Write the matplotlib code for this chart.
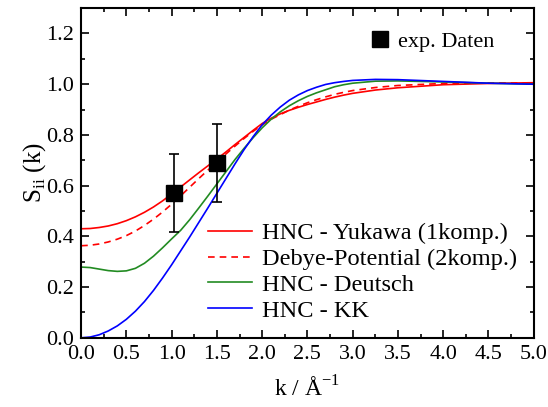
import matplotlib
matplotlib.use('Agg')
import matplotlib.pyplot as plt
from matplotlib.ticker import MultipleLocator

plt.rcParams['font.family'] = ['Liberation Serif', 'DejaVu Serif']
plt.rcParams['mathtext.fontset'] = 'custom'
plt.rcParams['mathtext.rm'] = 'Liberation Serif'

# data
k = [0.0, 0.1, 0.2, 0.3, 0.4, 0.5, 0.6, 0.7, 0.8, 0.9,
     1.0, 1.1, 1.2, 1.3, 1.4, 1.5, 1.6, 1.7, 1.8, 1.9,
     2.0, 2.1, 2.2, 2.3, 2.4, 2.5, 2.6, 2.7, 2.8, 2.9,
     3.0, 3.25, 3.5, 4.0, 4.5, 5.0]
s_yukawa = [0.430, 0.431, 0.435, 0.441, 0.450, 0.462, 0.477, 0.495, 0.516, 0.540,
            0.567, 0.595, 0.623, 0.651, 0.678, 0.705, 0.733, 0.762, 0.790, 0.818,
            0.845, 0.866, 0.883, 0.897, 0.909, 0.920, 0.930, 0.940, 0.949, 0.957,
            0.964, 0.977, 0.986, 0.998, 1.003, 1.006]
s_debye = [0.363, 0.365, 0.370, 0.378, 0.389, 0.403, 0.421, 0.443, 0.468, 0.496,
           0.527, 0.560, 0.594, 0.628, 0.661, 0.693, 0.725, 0.756, 0.786, 0.814,
           0.840, 0.862, 0.880, 0.898, 0.913, 0.927, 0.939, 0.950, 0.960, 0.968,
           0.975, 0.987, 0.995, 1.003, 1.005, 1.005]
s_deutsch = [0.279, 0.277, 0.271, 0.265, 0.262, 0.264, 0.274, 0.294, 0.322, 0.355,
             0.390, 0.424, 0.466, 0.512, 0.559, 0.607, 0.655, 0.703, 0.747, 0.789,
             0.828, 0.862, 0.891, 0.915, 0.935, 0.952, 0.966, 0.978, 0.990, 0.998,
             1.004, 1.012, 1.013, 1.009, 1.004, 1.000]
s_kk = [0.000, 0.003, 0.012, 0.027, 0.047, 0.073, 0.105, 0.143, 0.187, 0.236,
        0.288, 0.343, 0.398, 0.455, 0.512, 0.570, 0.628, 0.686, 0.742, 0.793,
        0.840, 0.878, 0.910, 0.937, 0.958, 0.975, 0.988, 0.999, 1.006, 1.011,
        1.015, 1.019, 1.018, 1.011, 1.004, 1.000]

k_exp = [1.03, 1.505]
s_exp = [0.572, 0.690]
s_err = [0.153, 0.155]

fig = plt.figure(figsize=(5.48, 4.07), dpi=100)
ax = fig.add_axes([0.148, 0.170, 0.826, 0.810])

l1, = ax.plot(k, s_yukawa, color='red', lw=1.2, label='HNC - Yukawa (1komp.)')
l2, = ax.plot(k, s_debye, color='red', lw=1.2, ls=(0, (4, 3)), label='Debye-Potential (2komp.)')
l3, = ax.plot(k, s_deutsch, color='#228b22', lw=1.2, label='HNC - Deutsch')
l4, = ax.plot(k, s_kk, color='blue', lw=1.2, label='HNC - KK')

ax.errorbar(k_exp, s_exp, yerr=s_err, fmt='none', ecolor='black', elinewidth=1.2, capsize=3.5, capthick=1.2)
pe, = ax.plot(k_exp, s_exp, 's', color='black', ms=11, label='exp. Daten')

ax.set_xlim(0, 5)
ax.set_ylim(0, 1.3)
ax.xaxis.set_major_locator(MultipleLocator(0.5))
ax.xaxis.set_minor_locator(MultipleLocator(0.25))
ax.yaxis.set_major_locator(MultipleLocator(0.2))
ax.yaxis.set_minor_locator(MultipleLocator(0.1))
ax.set_xticklabels([f'{v:.1f}' for v in ax.get_xticks()])
ax.set_yticklabels([f'{v:.1f}' for v in ax.get_yticks()])
ax.tick_params(which='both', direction='in', top=True, right=True, labelsize=16, width=1.2)
ax.tick_params(which='major', length=6, pad=5)
ax.tick_params(which='minor', length=3)
for sp in ax.spines.values():
    sp.set_linewidth(1.5)

ax.set_xlabel(r'k / Å$^{\mathregular{-1}}$', fontsize=17, labelpad=9)
ax.set_ylabel(r'S$_{\mathregular{ii}}$ (k)', fontsize=18, labelpad=-1)

leg1 = ax.legend(handles=[pe], loc='upper right', bbox_to_anchor=(0.957, 0.99), frameon=False,
                 fontsize=16, handlelength=0.6, handletextpad=0.5)
ax.add_artist(leg1)
ax.legend(handles=[l1, l2, l3, l4], loc='lower right', bbox_to_anchor=(1.012, -0.018), frameon=False,
          fontsize=17.6, handlelength=1.8, handletextpad=0.4, labelspacing=0.15)

fig.savefig('out.png', dpi=100)
